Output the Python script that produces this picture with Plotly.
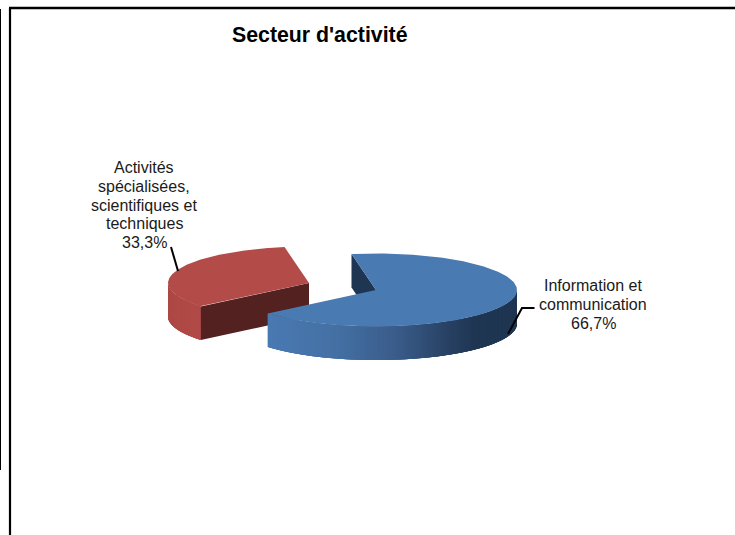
import numpy as np
import plotly.graph_objects as go

categories = [["Information et", "communication"], ["Activités", "spécialisées,", "scientifiques et", "techniques"]]
shares = [66.7, 33.3]
share_labels = ["66,7%", "33,3%"]
title_text = "Secteur d'activité"

W, H = 735, 535
FIRST_ANGLE = -10.0
RX, RY, DEPTH = 141.0, 36.5, 33.5
CENTERS = [(376.0, 290.0), (309.0, 283.0)]
TOP_COLORS = ["#4a7ab2", "#b34c49"]
CUT_COLORS = ["#1f3652", "#53211f"]

total = sum(shares)
sweeps = [360.0 * s / total for s in shares]
starts = [FIRST_ANGLE, FIRST_ANGLE + sweeps[0]]


def rim(center, deg, drop=0.0):
    t = np.radians(deg)
    return center[0] + RX * np.sin(t), center[1] - RY * np.cos(t) + drop


def poly(fig, xs, ys, color):
    fig.add_trace(go.Scatter(x=list(xs), y=list(ys), mode="lines", fill="toself",
                             fillcolor=color, line=dict(color=color, width=0),
                             hoverinfo="skip", showlegend=False))


def lerp_color(stops, x):
    pos = [p for p, _ in stops]
    out = [np.interp(x, pos, [c[i] for _, c in stops]) for i in range(3)]
    return "rgb(%d,%d,%d)" % tuple(round(v) for v in out)


BLUE_RAMP = [(268, (74, 122, 178)), (340, (68, 112, 164)), (400, (58, 92, 138)),
             (450, (40, 66, 100)), (478, (31, 54, 82)), (520, (31, 54, 82))]
RED_RAMP = [(165, (174, 72, 69)), (210, (177, 75, 72))]

fig = go.Figure()


def outer_side(i, a0, a1, ramp):
    # painted from a0 to a1, each slab running past the next so no seams show
    c = CENTERS[i]
    edges = np.arange(a0, a1 + 0.01, 1.0)
    edges[-1] = a1
    order = list(zip(edges[:-1], edges[1:]))
    if ramp is BLUE_RAMP:
        order = order[::-1]
    for a, b in order:
        lo = max(a0, a - 1.5)
        hi = min(a1, b + 1.5)
        fine = np.linspace(lo, hi, 5)
        tx, ty = zip(*[rim(c, d) for d in fine])
        bx, by = zip(*[rim(c, d, DEPTH) for d in fine[::-1]])
        mid = rim(c, (a + b) / 2)[0]
        poly(fig, tx + bx + tx[:1], ty + by + ty[:1], lerp_color(ramp, mid))


def top_face(i):
    c = CENTERS[i]
    deg = np.linspace(starts[i], starts[i] + sweeps[i], 240)
    rx, ry = zip(*[rim(c, d) for d in deg])
    poly(fig, (c[0],) + rx + (c[0],), (c[1],) + ry + (c[1],), TOP_COLORS[i])


def cut_face(i, deg):
    c = CENTERS[i]
    x, y = rim(c, deg)
    poly(fig, [c[0], x, x, c[0], c[0]], [c[1], y, y + DEPTH, c[1] + DEPTH, c[1]], CUT_COLORS[i])


# red slice (exploded, behind the blue one)
outer_side(1, starts[1], 270.0, RED_RAMP)
cut_face(1, starts[1])
top_face(1)

# blue slice
cut_face(0, starts[0])
outer_side(0, 90.0, starts[1], BLUE_RAMP)
top_face(0)

# leader lines
for lx, ly in [([534.5, 522, 508], [308, 308, 334]), ([171, 178], [247, 271])]:
    fig.add_trace(go.Scatter(x=lx, y=ly, mode="lines", line=dict(color="#000000", width=2),
                             hoverinfo="skip", showlegend=False))

FONT = "Liberation Sans, Arial, sans-serif"
LABEL_FONT = dict(size=16, color="#1a1a1a", family=FONT)
LINE_STEP = 18.8
annotations = [dict(x=320, y=35, text="<b>%s</b>" % title_text, font=dict(size=21.3, color="#000000", family=FONT))]
for lines, cx, first_y in [(categories[0] + [share_labels[0]], 593, 285.5),
                           (categories[1] + [share_labels[1]], 144, 167.5)]:
    for n, line in enumerate(lines):
        annotations.append(dict(x=cx, y=first_y + n * LINE_STEP, text=line, font=LABEL_FONT))
for a in annotations:
    a.update(xref="x", yref="y", showarrow=False, xanchor="center", yanchor="middle", align="center")

frame = [
    dict(x0=10, x1=10, y0=8, y1=535, w=2.2),
    dict(x0=9, x1=735, y0=8, y1=8, w=2.4),
    dict(x0=0.5, x1=0.5, y0=9, y1=470, w=1),
]
shapes = [dict(type="line", xref="x", yref="y", x0=f["x0"], x1=f["x1"], y0=f["y0"], y1=f["y1"],
               line=dict(color="#000000", width=f["w"])) for f in frame]

fig.update_layout(
    width=W, height=H, margin=dict(l=0, r=0, t=0, b=0),
    paper_bgcolor="#ffffff", plot_bgcolor="#ffffff",
    xaxis=dict(range=[0, W], visible=False, fixedrange=True),
    yaxis=dict(range=[H, 0], visible=False, fixedrange=True),
    annotations=annotations, shapes=shapes, showlegend=False,
)
fig.write_html("out.html", config=dict(displayModeBar=False),
               post_script="document.body.style.margin='0';document.documentElement.style.overflow='hidden';")
